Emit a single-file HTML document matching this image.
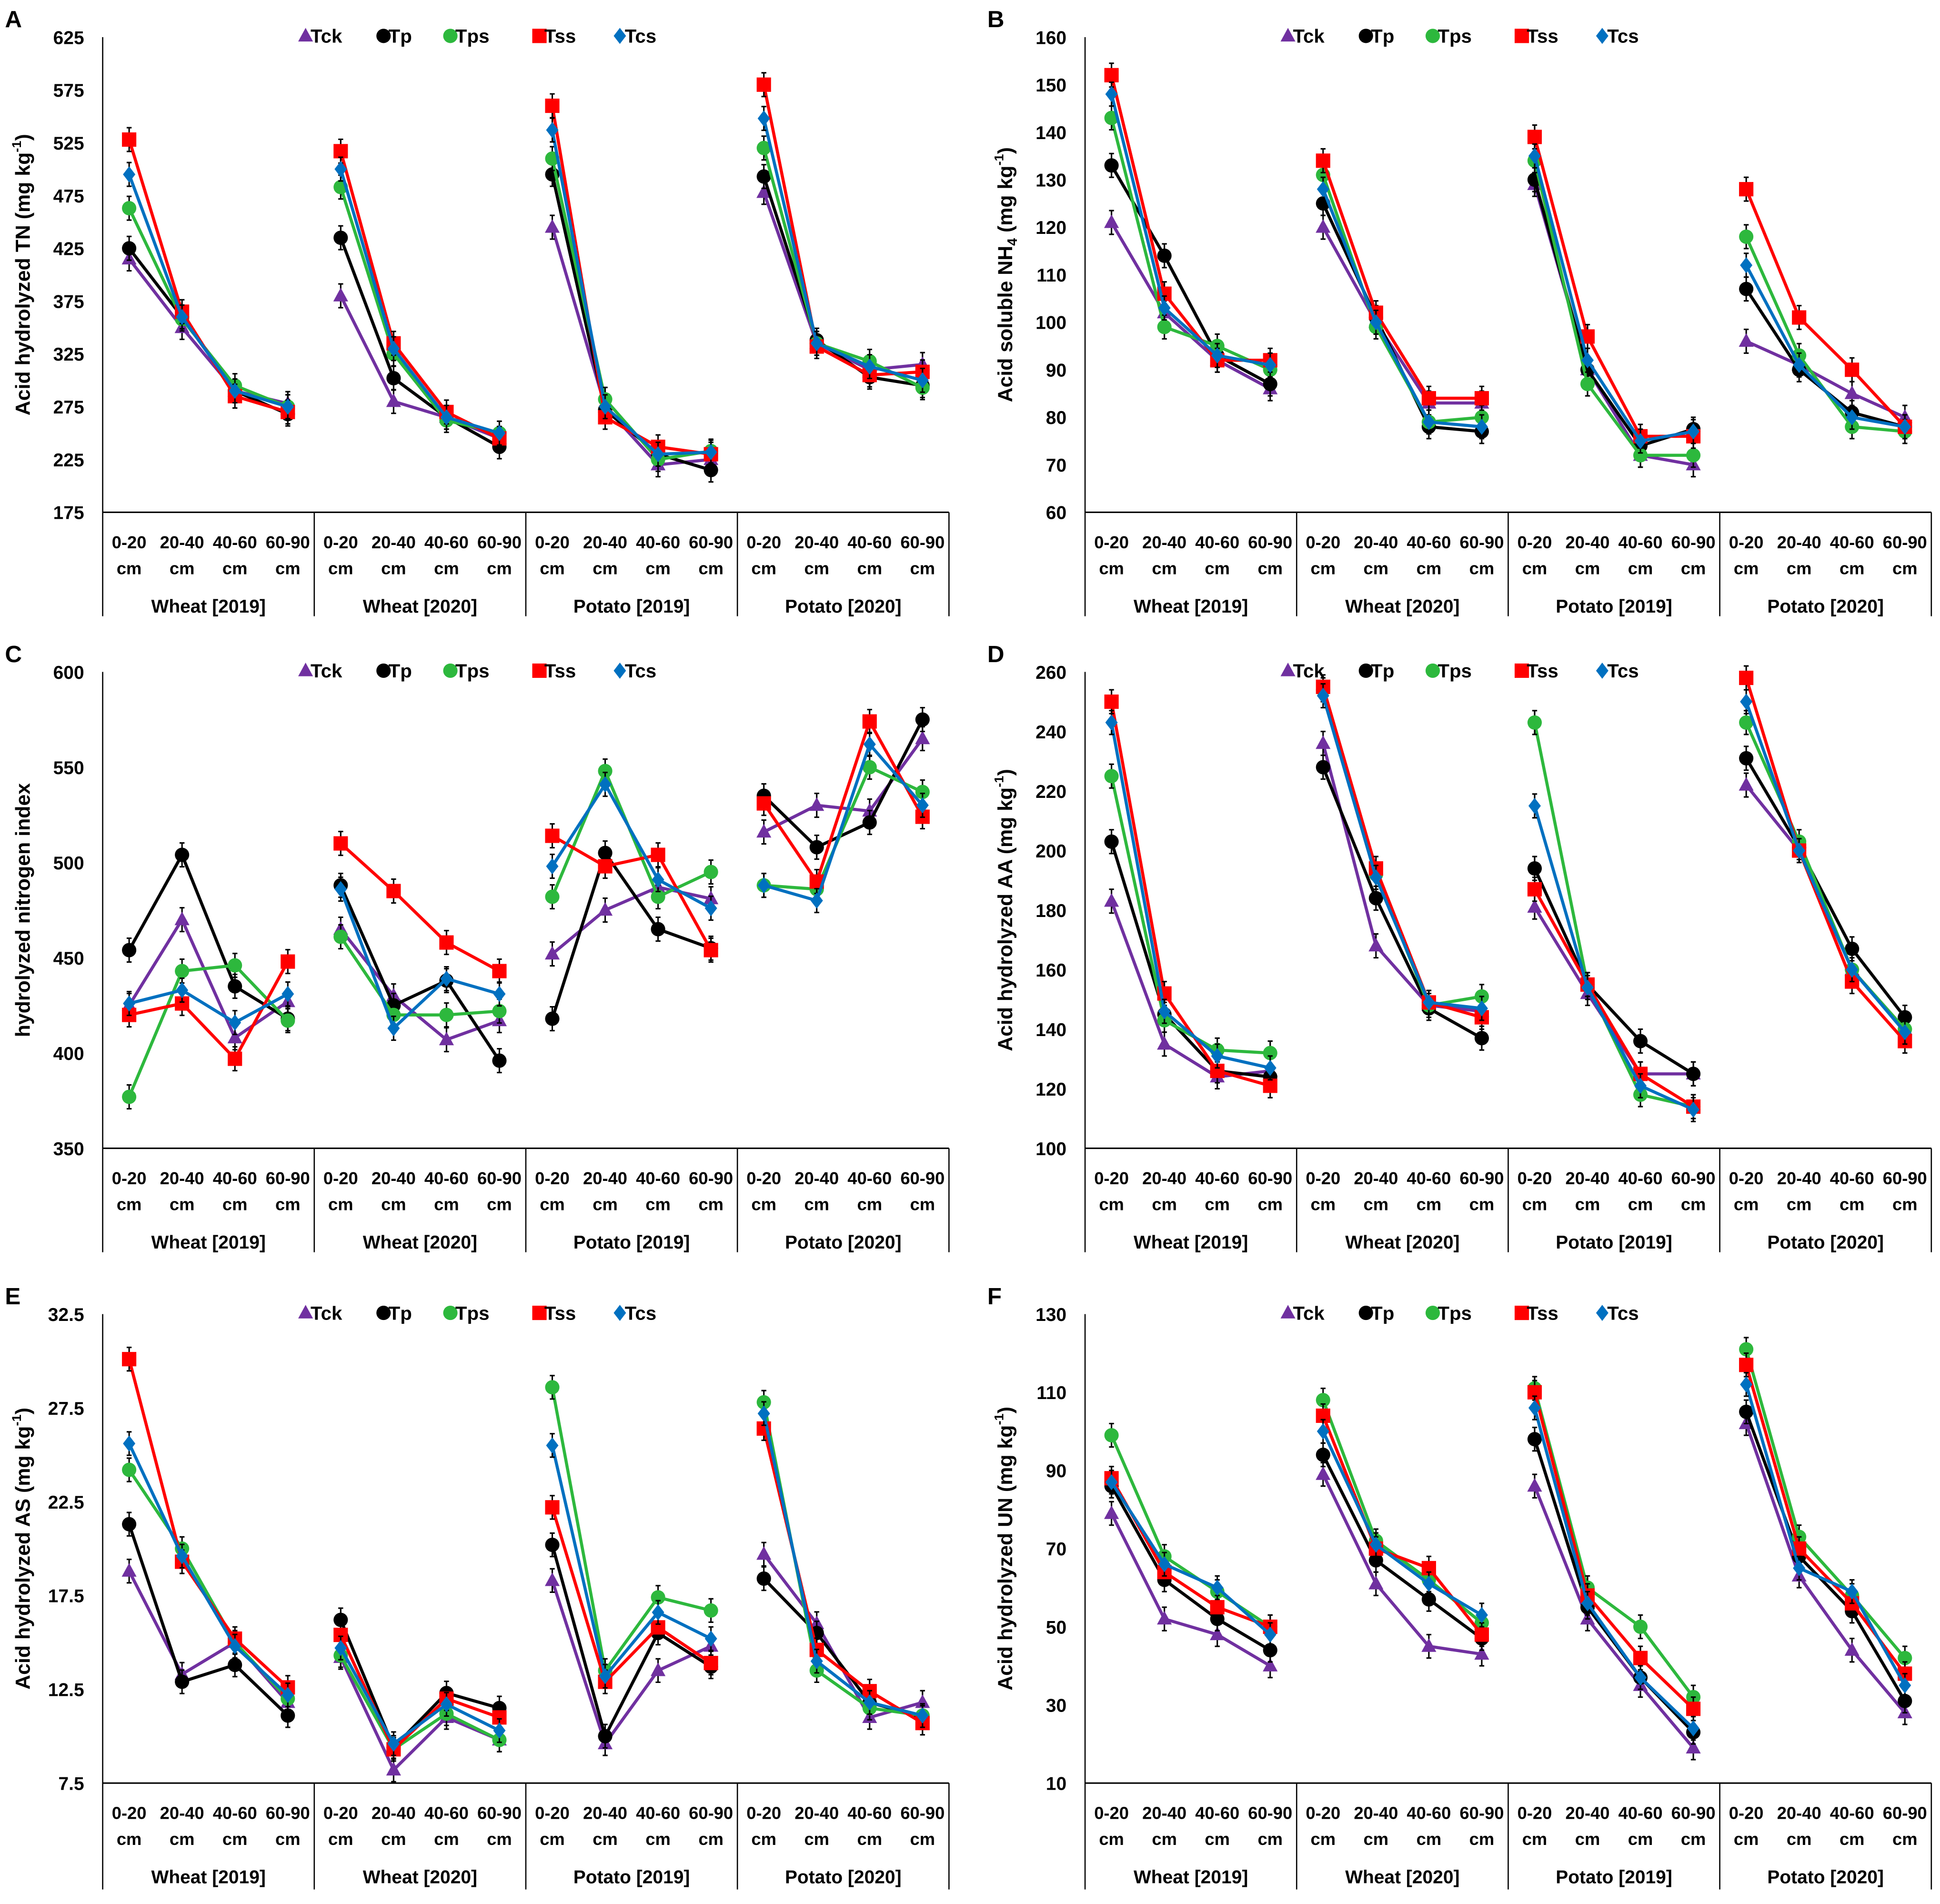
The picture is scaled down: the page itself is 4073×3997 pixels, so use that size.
<!DOCTYPE html>
<html><head><meta charset="utf-8"><style>
html,body{margin:0;padding:0;background:#fff;}
svg{display:block;}
text{font-family:"Liberation Sans",Arial,sans-serif;font-weight:bold;fill:#000;}
</style></head><body>
<svg id="fig" width="4073" height="3997" viewBox="0 0 1568 1538.7" xmlns="http://www.w3.org/2000/svg"></svg>
<script>
const seriesNames = ["Tck","Tp","Tps","Tss","Tcs"];
const seriesColors = ["#7030A0","#000000","#2DB83D","#FF0000","#0070C0"];
const depthLabels = ["0-20","20-40","40-60","60-90"];
const cropLabels = ["Wheat [2019]","Wheat [2020]","Potato [2019]","Potato [2020]"];

const A_ticks = [175,225,275,325,375,425,475,525,575,625];
const A_Tck = [415,350,290,278, 380,280,265,245, 445,275,220,225, 478,335,310,315];
const A_Tp  = [425,360,290,268, 435,302,265,237, 495,272,230,215, 493,338,303,295];
const A_Tps = [463,358,295,275, 483,325,262,250, 510,282,225,233, 520,335,318,293];
const A_Tss = [528,365,285,270, 517,335,270,245, 560,265,237,230, 580,332,305,308];
const A_Tcs = [495,360,290,275, 500,330,265,250, 537,275,230,232, 548,335,313,300];

const B_ticks = [60,70,80,90,100,110,120,130,140,150,160];
const B_Tck = [121,102,92,86, 120,100,83,83, 129,90,72,70, 96,91,85,80];
const B_Tp  = [133,114,93,87, 125,101,78,77, 130,90,74,77.5, 107,90,81,78];
const B_Tps = [143,99,95,90, 131,99,79,80, 134,87,72,72, 118,93,78,77];
const B_Tss = [152,106,92,92, 134,102,84,84, 139,97,76,76, 128,101,90,78];
const B_Tcs = [148,103,93,91, 128,100,79,78, 135,92,75,77, 112,91,80,78];

const C_ticks = [350,400,450,500,550,600];
const C_Tck = [425,470,408,427, 465,430,407,417, 452,475,487,481, 516,530,527,565];
const C_Tp  = [454,504,435,418, 488,425,438,396, 418,505,465,455, 535,508,521,575];
const C_Tps = [377,443,446,417, 461,420,420,422, 482,548,482,495, 488,486,550,537];
const C_Tss = [420,426,397,448, 510,485,458,443, 514,498,504,454, 531,490,574,524];
const C_Tcs = [426,433,416,431, 486,413,439,431, 498,541,491,476, 488,480,562,530];

const D_ticks = [100,120,140,160,180,200,220,240,260];
const D_Tck = [183,135,124,126, 236,168,148,146, 181,152,125,125, 222,200,160,140];
const D_Tp  = [203,145,126,124, 228,184,147,137, 194,155,136,125, 231,201,167,144];
const D_Tps = [225,143,133,132, 254,192,148,151, 243,155,118,114, 243,203,160,140];
const D_Tss = [250,152,126,121, 255,194,149,144, 187,155,125,114, 258,200,156,136];
const D_Tcs = [243,146,131,127, 252,191,149,147, 215,154,121,113, 250,200,160,139];

const E_ticks = [7.5,12.5,17.5,22.5,27.5,32.5];
const E_Tck = [18.8,13.3,15.0,11.8, 14.2,8.2,11.0,9.8, 18.3,9.6,13.5,14.8, 19.7,16.0,11.0,11.8];
const E_Tp  = [21.3,12.9,13.8,11.1, 16.2,9.4,12.3,11.5, 20.2,10.0,15.5,13.7, 18.4,15.5,11.8,11.0];
const E_Tps = [24.2,20.0,15.0,12.0, 14.3,9.3,11.2,9.8, 28.6,13.5,17.4,16.7, 27.8,13.5,11.5,11.1];
const E_Tss = [30.1,19.3,15.2,12.6, 15.4,9.3,12.0,11.0, 22.2,12.9,15.8,13.9, 26.4,14.6,12.4,10.7];
const E_Tcs = [25.6,19.6,14.8,12.2, 14.7,9.6,11.7,10.3, 25.5,13.2,16.6,15.2, 27.2,14.0,11.8,11.1];

const F_ticks = [10,30,50,70,90,110,130];
const F_Tck = [79,52,48,40, 89,61,45,43, 86,52,35,19, 102,63,44,28];
const F_Tp  = [86,62,52,44, 94,67,57,47, 98,55,37,23, 105,68,54,31];
const F_Tps = [99,68,59,50, 108,72,62,51, 111,60,50,32, 121,73,58,42];
const F_Tss = [88,64,55,50, 104,70,65,48, 110,58,42,29, 117,70,56,38];
const F_Tcs = [87,66,60,48, 100,71,61,53, 106,56,37,24, 112,65,59,35];

const errFrac = 0.025;

const NS = "http://www.w3.org/2000/svg";
const svg = document.getElementById("fig");
function mk(tag, attrs, parent){
  const e = document.createElementNS(NS, tag);
  for (const k in attrs) e.setAttribute(k, attrs[k]);
  (parent||svg).appendChild(e);
  return e;
}

const panels = [
  {id:"a", letter:"A", ox:0, top:30, bot:414, sepBot:498, ticks:A_ticks, data:[A_Tck,A_Tp,A_Tps,A_Tss,A_Tcs], label:"Acid hydrolyzed TN (mg kg", sup:"-1", sub:null},
  {id:"b", letter:"B", ox:794, top:30, bot:414, sepBot:498, ticks:B_ticks, data:[B_Tck,B_Tp,B_Tps,B_Tss,B_Tcs], label:"Acid soluble NH", sub:"4", tail:" (mg kg", sup:"-1"},
  {id:"c", letter:"C", ox:0, top:543, bot:928, sepBot:1012, ticks:C_ticks, data:[C_Tck,C_Tp,C_Tps,C_Tss,C_Tcs], label:"hydrolyzed nitrogen index", sup:null, sub:null, plain:true},
  {id:"d", letter:"D", ox:794, top:543, bot:928, sepBot:1012, ticks:D_ticks, data:[D_Tck,D_Tp,D_Tps,D_Tss,D_Tcs], label:"Acid hydrolyzed AA (mg kg", sup:"-1", sub:null},
  {id:"e", letter:"E", ox:0, top:1062, bot:1441, sepBot:1527, ticks:E_ticks, data:[E_Tck,E_Tp,E_Tps,E_Tss,E_Tcs], label:"Acid hydrolyzed AS (mg kg", sup:"-1", sub:null},
  {id:"f", letter:"F", ox:794, top:1062, bot:1441, sepBot:1527, ticks:F_ticks, data:[F_Tck,F_Tp,F_Tps,F_Tss,F_Tcs], label:"Acid hydrolyzed UN (mg kg", sup:"-1", sub:null}
];

function marker(g, type, x, y, color){
  let m;
  if (type===0) m = mk("polygon",{points:`${x},${y-6.5} ${x+6},${y+4.5} ${x-6},${y+4.5}`,fill:color},g);
  else if (type===1 || type===2) m = mk("circle",{cx:x,cy:y,r:5.8,fill:color},g);
  else if (type===3) m = mk("rect",{x:x-5.8,y:y-5.8,width:11.6,height:11.6,fill:color},g);
  else m = mk("polygon",{points:`${x},${y-6.5} ${x+5},${y} ${x},${y+6.5} ${x-5},${y}`,fill:color},g);
  return m;
}

panels.forEach(p=>{
  const g = mk("g",{});
  
  
  const x0 = 83 + p.ox, x1 = 767 + p.ox;
  const tmin = p.ticks[0], tmax = p.ticks[p.ticks.length-1];
  const yS = v => p.bot - (v - tmin)/(tmax - tmin)*(p.bot - p.top);
  const xS = i => x0 + (2*i+1)*(x1-x0)/32;

  const L = mk("text",{x:p.ox+4, y:p.top-8, "font-size":19},g);
  L.textContent = p.letter;
  
  

  const ya = mk("line",{x1:x0,y1:p.top,x2:x0,y2:p.sepBot,stroke:"#000","stroke-width":1},g);
  
  
  const xa = mk("line",{x1:x0,y1:p.bot,x2:x1,y2:p.bot,stroke:"#000","stroke-width":1.2},g);
  
  
  for (let k=1;k<=4;k++){
    const sx = x0 + k*(x1-x0)/4;
    const s = mk("line",{x1:sx,y1:p.bot,x2:sx,y2:p.sepBot,stroke:"#000","stroke-width":1},g);
    
    
  }
  p.ticks.forEach(t=>{
    const tt = mk("text",{x:x0-15, y:yS(t)+5.5, "font-size":15, "text-anchor":"end"},g);
    tt.textContent = String(t);
    
    
  });
  for (let i=0;i<16;i++){
    const a = mk("text",{x:xS(i), y:p.bot+29, "font-size":14, "text-anchor":"middle"},g);
    a.textContent = depthLabels[i%4];
    
    
    const b = mk("text",{x:xS(i), y:p.bot+50, "font-size":14, "text-anchor":"middle"},g);
    b.textContent = "cm";
    
    
  }
  cropLabels.forEach((c,k)=>{
    const t = mk("text",{x:x0+(k+0.5)*(x1-x0)/4, y:p.bot+81, "font-size":15, "text-anchor":"middle"},g);
    t.textContent = c;
    
    
  });
  const cy = (p.top+p.bot)/2;
  const yt = mk("text",{x:0,y:0,"font-size":16.5,"text-anchor":"middle",transform:`translate(${p.ox+24},${cy}) rotate(-90)`},g);
  
  
  if (p.plain){ yt.textContent = p.label; }
  else {
    yt.appendChild(document.createTextNode(p.label));
    if (p.sub){
      const s = mk("tspan",{"font-size":11,dy:4},yt); s.textContent = p.sub;
      const r = mk("tspan",{"font-size":16.5,dy:-4},yt); r.textContent = p.tail;
    }
    const s2 = mk("tspan",{"font-size":10.5,dy:-7},yt); s2.textContent = p.sup;
    const s3 = mk("tspan",{"font-size":16.5,dy:7},yt); s3.textContent = ")";
  }
  const legX = [247,310,364,436,501];
  seriesNames.forEach((n,s)=>{
    const lg = mk("g",{},g);
    
    
    const lx = legX[s]+p.ox, ly = p.top-1;
    marker(lg, s, lx, ly, seriesColors[s]);
    const t = mk("text",{x:lx+4, y:ly+5.5, "font-size":15.5},lg);
    t.textContent = n;
  });
  const err = (tmax - tmin)*errFrac;
  p.data.forEach((vals,s)=>{
    const sg = mk("g",{},g);
    
    
    for (let grp=0;grp<4;grp++){
      const pts = [];
      for (let j=0;j<4;j++){ const i=grp*4+j; pts.push(xS(i)+","+yS(vals[i])); }
      const pl = mk("polyline",{points:pts.join(" "),fill:"none",stroke:seriesColors[s],"stroke-width":2.5},sg);
      
      
    }
    vals.forEach((v,i)=>{
      const x = xS(i), y = yS(v), e = err*(p.bot-p.top)/(tmax-tmin);
      const eb = mk("path",{d:`M${x},${y-e}V${y+e}M${x-2},${y-e}H${x+2}M${x-2},${y+e}H${x+2}`,stroke:"#000","stroke-width":1.2,fill:"none"},sg);
      
      
      const m = marker(sg, s, x, y, seriesColors[s]);
      
      
    });
  });
});
</script>
</body></html>
